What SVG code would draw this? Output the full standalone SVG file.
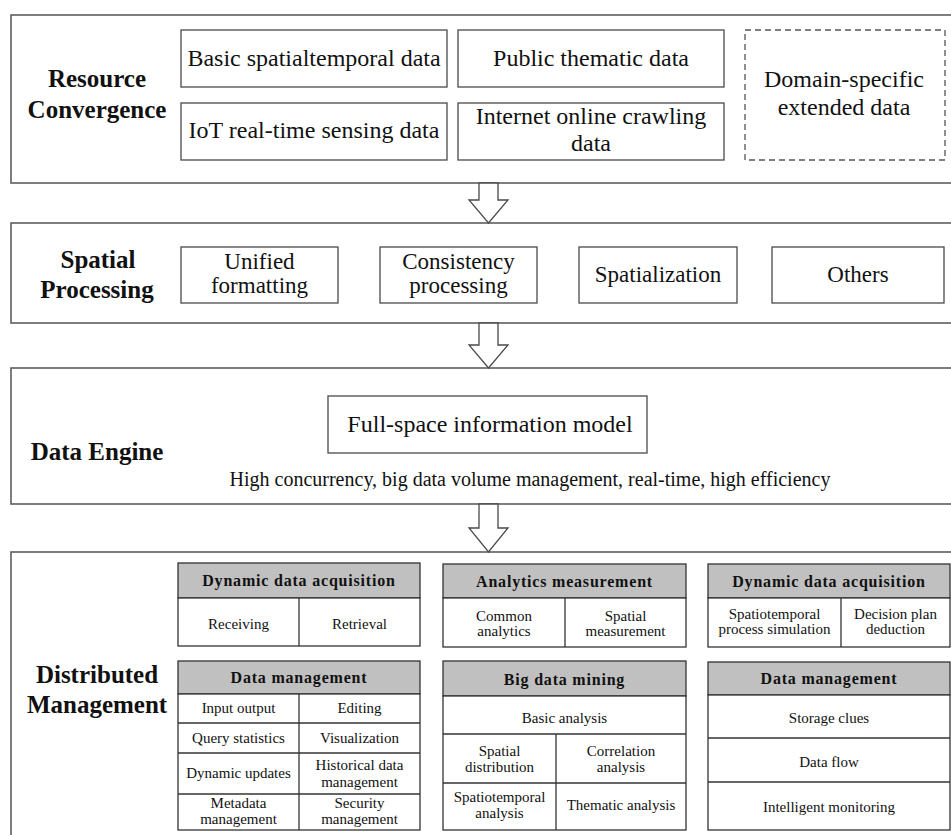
<svg xmlns="http://www.w3.org/2000/svg" width="951" height="835" viewBox="0 0 951 835">
  <style>
    .frame { fill: #ffffff; stroke: #5e5e5e; stroke-width: 1.6; }
    .box { fill: #ffffff; stroke: #4a4a4a; stroke-width: 1.3; }
    .dashed { fill: #ffffff; stroke: #555555; stroke-width: 1.3; stroke-dasharray: 6 4; }
    .cell { fill: #ffffff; stroke: #333333; stroke-width: 1.3; }
    .head { fill: #c0c0c0; stroke: #333333; stroke-width: 1.3; }
    .arrow { fill: #ffffff; stroke: #4a4a4a; stroke-width: 1.3; stroke-linejoin: miter; }
    text { font-family: "Liberation Serif", "Times New Roman", serif; fill: #111111; text-anchor: middle; }
    .title { font-size: 25px; font-weight: bold; }
    .item { font-size: 24px; }
    .item2 { font-size: 23px; }
    .note { font-size: 20px; }
    .th { font-size: 16px; font-weight: bold; letter-spacing: 0.8px; }
    .td { font-size: 15px; }
  </style>

  <!-- Layer frames -->
  <g id="layer-resource">
    <rect class="frame" x="11" y="15" width="950" height="168"/>
    <text class="title" x="97" y="87">Resource</text>
    <text class="title" x="97" y="118">Convergence</text>
  </g>
  <g id="layer-processing">
    <rect class="frame" x="11" y="223" width="950" height="100"/>
    <text class="title" x="98" y="268">Spatial</text>
    <text class="title" x="97" y="298">Processing</text>
  </g>
  <g id="layer-engine">
    <rect class="frame" x="11" y="368" width="950" height="136"/>
    <text class="title" x="97" y="460">Data Engine</text>
    <text class="note" x="530" y="486">High concurrency, big data volume management, real-time, high efficiency</text>
  </g>
  <g id="layer-management">
    <rect class="frame" x="11" y="552" width="950" height="300"/>
    <text class="title" x="97" y="683">Distributed</text>
    <text class="title" x="97" y="713">Management</text>
  </g>

  <!-- Resource convergence items -->
  <g id="basic-data">
    <rect class="box" x="181" y="30" width="266" height="57"/>
    <text class="item" x="314" y="66">Basic spatialtemporal data</text>
  </g>
  <g id="iot-data">
    <rect class="box" x="181" y="103" width="266" height="57"/>
    <text class="item" x="314" y="138">IoT real-time sensing data</text>
  </g>
  <g id="public-data">
    <rect class="box" x="458" y="30" width="266" height="57"/>
    <text class="item" x="591" y="66">Public thematic data</text>
  </g>
  <g id="internet-data">
    <rect class="box" x="458" y="103" width="266" height="57"/>
    <text class="item" x="591" y="124">Internet online crawling</text>
    <text class="item" x="591" y="151">data</text>
  </g>
  <g id="domain-data">
    <rect class="dashed" x="745" y="30" width="200" height="130"/>
    <text class="item" x="844" y="87">Domain-specific</text>
    <text class="item" x="844" y="115">extended data</text>
  </g>

  <!-- Spatial processing items -->
  <g id="unified">
    <rect class="box" x="181" y="247" width="157" height="56"/>
    <text class="item2" x="259.5" y="269">Unified</text>
    <text class="item2" x="259.5" y="293">formatting</text>
  </g>
  <g id="consistency">
    <rect class="box" x="380" y="247" width="157" height="56"/>
    <text class="item2" x="458.5" y="269">Consistency</text>
    <text class="item2" x="458.5" y="293">processing</text>
  </g>
  <g id="spatialization">
    <rect class="box" x="579" y="247" width="158" height="56"/>
    <text class="item2" x="658" y="282">Spatialization</text>
  </g>
  <g id="others">
    <rect class="box" x="772" y="247" width="172" height="56"/>
    <text class="item2" x="858" y="282">Others</text>
  </g>

  <!-- Data engine model -->
  <g id="full-space-model">
    <rect class="box" x="328" y="396" width="319" height="57"/>
    <text class="item" x="490" y="432">Full-space information model</text>
  </g>

  <!-- Distributed management tables -->
  <g id="acquisition-left">
    <rect class="head" x="178" y="563" width="242" height="35"/>
    <rect class="cell" x="178" y="598" width="242" height="48"/>
    <line class="cell" x1="299" y1="598" x2="299" y2="646"/>
    <text class="th" x="299" y="586">Dynamic data acquisition</text>
    <text class="td" x="238.5" y="629">Receiving</text>
    <text class="td" x="359.5" y="629">Retrieval</text>
  </g>
  <g id="management-left">
    <rect class="head" x="178" y="661" width="242" height="33"/>
    <rect class="cell" x="178" y="694" width="242" height="136"/>
    <line class="cell" x1="178" y1="723" x2="420" y2="723"/>
    <line class="cell" x1="178" y1="753" x2="420" y2="753"/>
    <line class="cell" x1="178" y1="794" x2="420" y2="794"/>
    <line class="cell" x1="299" y1="694" x2="299" y2="830"/>
    <text class="th" x="299" y="683">Data management</text>
    <text class="td" x="238.5" y="713">Input output</text>
    <text class="td" x="359.5" y="713">Editing</text>
    <text class="td" x="238.5" y="743">Query statistics</text>
    <text class="td" x="359.5" y="743">Visualization</text>
    <text class="td" x="238.5" y="778">Dynamic updates</text>
    <text class="td" x="359.5" y="770">Historical data</text>
    <text class="td" x="359.5" y="787">management</text>
    <text class="td" x="238.5" y="808">Metadata</text>
    <text class="td" x="238.5" y="824">management</text>
    <text class="td" x="359.5" y="808">Security</text>
    <text class="td" x="359.5" y="824">management</text>
  </g>
  <g id="analytics">
    <rect class="head" x="443" y="564" width="243" height="34"/>
    <rect class="cell" x="443" y="598" width="243" height="49"/>
    <line class="cell" x1="565" y1="598" x2="565" y2="647"/>
    <text class="th" x="564.5" y="587">Analytics measurement</text>
    <text class="td" x="504" y="621">Common</text>
    <text class="td" x="504" y="636">analytics</text>
    <text class="td" x="625.5" y="621">Spatial</text>
    <text class="td" x="625.5" y="636">measurement</text>
  </g>
  <g id="mining">
    <rect class="head" x="443" y="661" width="243" height="35"/>
    <rect class="cell" x="443" y="696" width="243" height="134"/>
    <line class="cell" x1="443" y1="734" x2="686" y2="734"/>
    <line class="cell" x1="443" y1="783" x2="686" y2="783"/>
    <line class="cell" x1="556" y1="734" x2="556" y2="830"/>
    <text class="th" x="564.5" y="685">Big data mining</text>
    <text class="td" x="564.5" y="723">Basic analysis</text>
    <text class="td" x="499.5" y="756">Spatial</text>
    <text class="td" x="499.5" y="772">distribution</text>
    <text class="td" x="621" y="756">Correlation</text>
    <text class="td" x="621" y="772">analysis</text>
    <text class="td" x="499.5" y="802">Spatiotemporal</text>
    <text class="td" x="499.5" y="818">analysis</text>
    <text class="td" x="621" y="810">Thematic analysis</text>
  </g>
  <g id="acquisition-right">
    <rect class="head" x="708" y="564" width="242" height="34"/>
    <rect class="cell" x="708" y="598" width="242" height="49"/>
    <line class="cell" x1="841" y1="598" x2="841" y2="647"/>
    <text class="th" x="829" y="587">Dynamic data acquisition</text>
    <text class="td" x="774.5" y="619">Spatiotemporal</text>
    <text class="td" x="774.5" y="634">process simulation</text>
    <text class="td" x="895.5" y="619">Decision plan</text>
    <text class="td" x="895.5" y="634">deduction</text>
  </g>
  <g id="management-right">
    <rect class="head" x="708" y="662" width="242" height="33"/>
    <rect class="cell" x="708" y="695" width="242" height="135"/>
    <line class="cell" x1="708" y1="738" x2="950" y2="738"/>
    <line class="cell" x1="708" y1="782" x2="950" y2="782"/>
    <text class="th" x="829" y="684">Data management</text>
    <text class="td" x="829" y="723">Storage clues</text>
    <text class="td" x="829" y="767">Data flow</text>
    <text class="td" x="829" y="812">Intelligent monitoring</text>
  </g>

  <!-- Block arrows between layers -->
  <g id="connectors">
    <polygon class="arrow" points="479,183 498,183 498,200 508,200 488.5,223 469,200 479,200"/>
    <polygon class="arrow" points="479,323 498,323 498,345 508,345 488.5,368 469,345 479,345"/>
    <polygon class="arrow" points="479,504 498,504 498,528 508,528 488.5,552 469,528 479,528"/>
  </g>
</svg>
